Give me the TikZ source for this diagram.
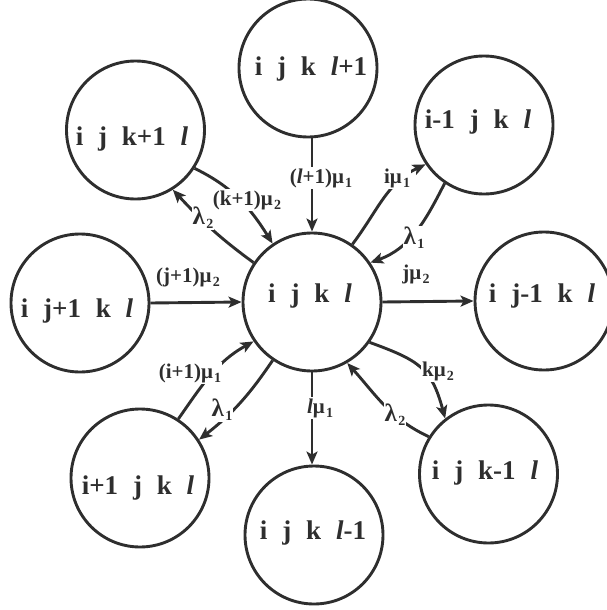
\documentclass[tikz,border=0pt]{standalone}
\usepackage{fontspec}
\setmainfont{Liberation Serif}
\usetikzlibrary{arrows.meta}
\definecolor{ink}{HTML}{2E2E2E}
% lowered small index after a rate symbol
\newcommand\lsub[1]{\hspace{0.06em}\raisebox{-0.45ex}{\fontsize{14}{14}\selectfont #1}}
\newcommand\gp{\hspace{0.55em}}
\newcommand\el{\textit{l}}
\newcommand\lam{{\fontsize{25}{25}\selectfont λ}}

\begin{document}
\begin{tikzpicture}[x=1pt,y=-1pt,
  state/.style={draw=ink, line width=2.9pt, circle, minimum size=138pt, inner sep=0pt},
  stxt/.style={text=ink, font=\fontsize{27}{30}\selectfont\bfseries, anchor=base, inner sep=0pt},
  lbl/.style={text=ink, font=\fontsize{21}{23}\selectfont\bfseries, inner sep=1pt},
  cover/.style={lbl, fill=white},
  link/.style={draw=ink, line width=2.9pt, -{Stealth[length=13pt,width=11pt,inset=3pt]}},
]
\clip (0,0) rectangle (607,610);

% states
\node[state] (C)  at (312,302) {};
\node[state] (T)  at (308,68) {};
\node[state] (TL) at (135.5,130) {};
\node[state] (TR) at (484,125) {};
\node[state] (L)  at (80,303) {};
\node[state] (R)  at (544,301) {};
\node[state] (BL) at (140,478) {};
\node[state] (B)  at (314,535) {};
\node[state] (BR) at (488.5,474) {};

% state names
\node[stxt] (Ct)  at (310,302) {i\gp j\gp k\gp\el};
\node[stxt] (Tt)  at (311,75)  {i\gp j\gp k\gp\el+1};
\node[stxt] (TLt) at (132,145) {i\gp j\gp k+1\gp\el};
\node[stxt] (TRt) at (478,128) {i-1\gp j\gp k\gp\el};
\node[stxt] (Lt)  at (77,317)  {i\gp j+1\gp k\gp\el};
\node[stxt] (Rt)  at (542,302) {i\gp j-1\gp k\gp\el};
\node[stxt] (BLt) at (138,494) {i+1\gp j\gp k\gp\el};
\node[stxt] (Bt)  at (313,539) {i\gp j\gp k\gp\el-1};
\node[stxt] (BRt) at (485,479) {i\gp j\gp k-1\gp\el};

% transitions
\draw[link] (T.south -| C.north) -- (C.north);
\draw[link] (TL.-33.5) to[out=-26, in=122] (C.124);
\draw[link] (C.146) to[out=144, in=-47] (TL.-58);
\draw[link] (C.55) to[out=53, in=205] (TR.-146);
\draw[link] (TR.-124) to[out=-117, in=20] (C.34);
\draw[link] (L.east) -- (C.west);
\draw[link] (C.east) -- (R.west);
\draw[link] (BL.57) to[out=55, in=209] (C.-146);
\draw[link] (C.-124) to[out=-124, in=38] (BL.33);
\draw[link] (C.south) -- (C.south |- B.north);
\draw[link] (C.-35) to[out=-20, in=105, looseness=1.25] (BR.128);
\draw[link] (BR.148) to[out=155, in=-48] (C.-60);

% rates
\node[cover] (r1)  at (321,178) {(\el+1)μ\lsub{1}};
\node[cover] (r2)  at (247,200) {(k+1)μ\lsub{2}};
\node[cover] (r3)  at (203,218) {\lam\lsub{2}};
\node[cover] (r4)  at (397,178) {iμ\lsub{1}};
\node[cover] (r5)  at (414,238) {\lam\lsub{1}};
\node[lbl]   (r6)  at (188,277) {(j+1)μ\lsub{2}};
\node[lbl]   (r7)  at (416,274) {jμ\lsub{2}};
\node[cover] (r8)  at (190,373) {(i+1)μ\lsub{1}};
\node[cover] (r9)  at (222,410) {\lam\lsub{1}};
\node[cover] (r10) at (320,408) {\el μ\lsub{1}};
\node[cover] (r11) at (438,371) {kμ\lsub{2}};
\node[cover] (r12) at (395,415) {\lam\lsub{2}};
\end{tikzpicture}
\end{document}
